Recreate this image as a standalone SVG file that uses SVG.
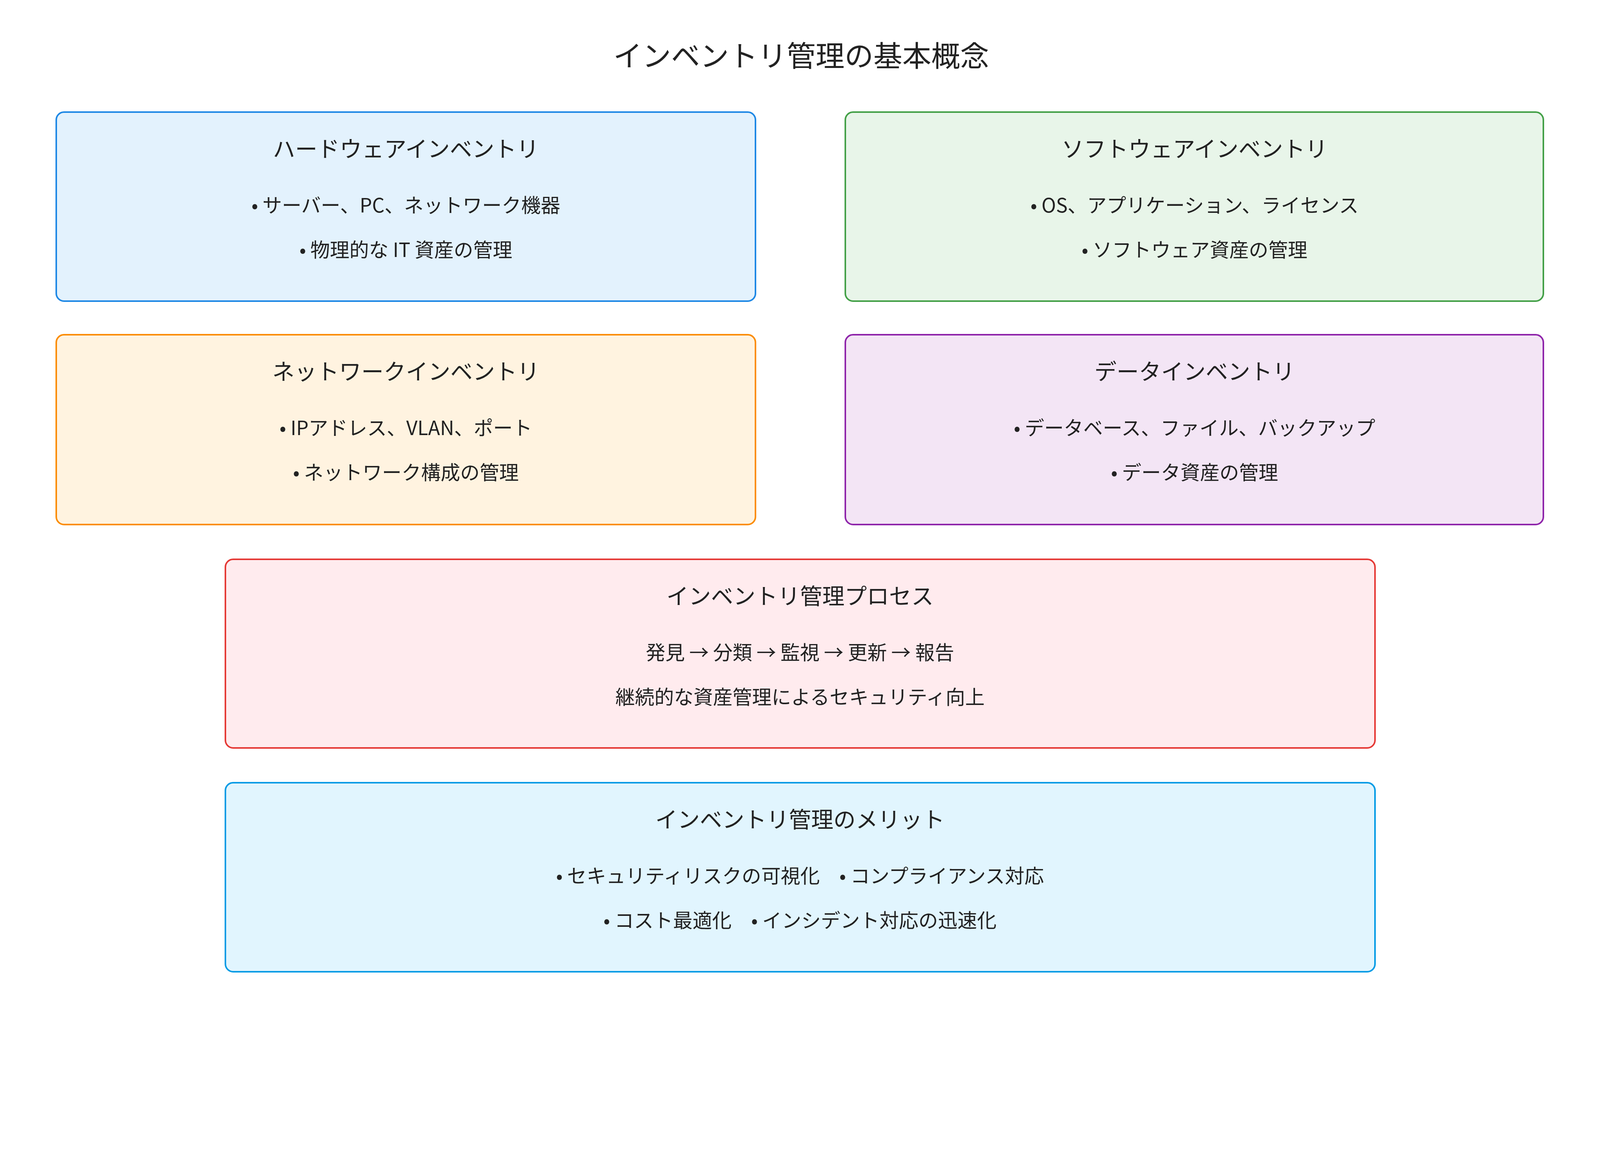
<svg xmlns="http://www.w3.org/2000/svg" width="4170" height="2970" viewBox="0 0 4170 2970">
<style>
text{font-family:"Noto Sans CJK JP","Noto Sans",sans-serif;fill:#222;text-anchor:middle}
.t{font-size:74px}
.h{font-size:57px}
.b{font-size:50px}
rect{stroke-width:4}
</style>
<rect width="4170" height="2970" fill="#fff"/>
<text class="t" x="2051" y="170">インベントリ管理の基本概念</text>
<g id="hardware">
<rect x="144" y="287" width="1790" height="484" rx="20" fill="#e3f2fd" stroke="#1e88e5"/>
<text class="h" x="1039" y="402">ハードウェアインベントリ</text>
<text class="b" x="1039" y="544">• サーバー、PC、ネットワーク機器</text>
<text class="b" x="1039" y="658">• 物理的な IT 資産の管理</text>
</g>
<g id="software">
<rect x="2164" y="287" width="1787" height="484" rx="20" fill="#e8f5e9" stroke="#43a047"/>
<text class="h" x="3058" y="402">ソフトウェアインベントリ</text>
<text class="b" x="3058" y="544">• OS、アプリケーション、ライセンス</text>
<text class="b" x="3058" y="658">• ソフトウェア資産の管理</text>
</g>
<g id="network">
<rect x="144" y="857" width="1790" height="486" rx="20" fill="#fff3e0" stroke="#fb8c00"/>
<text class="h" x="1039" y="972">ネットワークインベントリ</text>
<text class="b" x="1039" y="1114">• IPアドレス、VLAN、ポート</text>
<text class="b" x="1039" y="1228">• ネットワーク構成の管理</text>
</g>
<g id="data">
<rect x="2164" y="857" width="1787" height="486" rx="20" fill="#f3e5f5" stroke="#8e24aa"/>
<text class="h" x="3058" y="972">データインベントリ</text>
<text class="b" x="3058" y="1114">• データベース、ファイル、バックアップ</text>
<text class="b" x="3058" y="1228">• データ資産の管理</text>
</g>
<g id="process">
<rect x="577" y="1432" width="2943" height="483" rx="20" fill="#ffebee" stroke="#e53935"/>
<text class="h" x="2048" y="1547">インベントリ管理プロセス</text>
<text class="b" x="2048" y="1689">発見 → 分類 → 監視 → 更新 → 報告</text>
<text class="b" x="2048" y="1803">継続的な資産管理によるセキュリティ向上</text>
</g>
<g id="merit">
<rect x="577" y="2004" width="2943" height="484" rx="20" fill="#e1f5fe" stroke="#039be5"/>
<text class="h" x="2048" y="2119">インベントリ管理のメリット</text>
<text class="b" x="2048" y="2261">• セキュリティリスクの可視化　• コンプライアンス対応</text>
<text class="b" x="2048" y="2375">• コスト最適化　• インシデント対応の迅速化</text>
</g>
<g id="connectors"></g>
</svg>
